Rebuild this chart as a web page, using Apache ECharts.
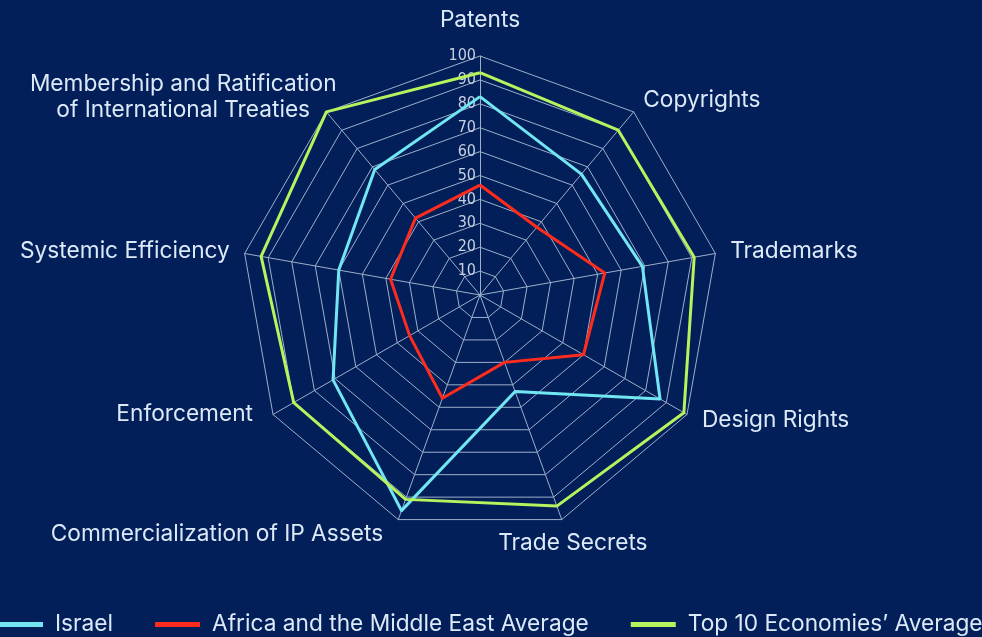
<!DOCTYPE html>
<html>
<head>
<meta charset="utf-8">
<script src="https://cdn.jsdelivr.net/npm/echarts@6/dist/echarts.min.js"></script>
<style>
html,body{margin:0;padding:0;background:#021f5a;}
#c{width:982px;height:637px;}
</style>
</head>
<body>
<div id="c"></div>
<script>
// Categories in clockwise order starting from the top
const categories = ['Patents','Copyrights','Trademarks','Design Rights','Trade Secrets','Commercialization of IP Assets','Enforcement','Systemic Efficiency','Membership and Ratification\nof International Treaties'];
const israel = [83, 66, 69, 87, 43, 96, 71, 60, 68.5];
const africaME = [46, 37, 53, 50, 30, 46, 34, 38, 42];
const top10 = [93, 90, 91, 98.5, 94, 91, 90, 93, 100];
const seriesNames = ['Israel', 'Africa and the Middle East Average', "Top 10 Economies\u2019 Average"];
const seriesColors = ['#72e6f2', '#ff2b1c', '#b6f35c'];
const axisMax = 100;

const NAME_FONT = 'Inter';
const NAME_SIZE = 22.7;
const NAME_COLOR = '#dce9f7';

// per-indicator name placement tweaks (clockwise index)
const nameStyles = {
  0: { padding: [0, 0, 8, 0] },
  1: { verticalAlign: 'middle', padding: [4, 0, 0, 0] },
  3: { verticalAlign: 'bottom', lineHeight: 4, padding: [0, 0, 0, 2] },
  4: { align: 'center', verticalAlign: 'top', lineHeight: 18, padding: [0, 0, 0, 12] },
  5: { verticalAlign: 'middle', padding: [0, 10, 4, 0] },
  6: { verticalAlign: 'bottom', lineHeight: 16, padding: [0, 7, 0, 0] },
  8: {
    verticalAlign: 'middle',
    padding: [0, 0, 7, 0],
    rich: { m: { width: 267, align: 'center', fontSize: NAME_SIZE, fontFamily: NAME_FONT, color: NAME_COLOR, lineHeight: 26 } }
  }
};

// ECharts radar places indicators counter-clockwise: reorder
const order = [0].concat(categories.slice(1).map((_, i) => categories.length - 1 - i));
const reorder = arr => order.map(i => arr[i]);

const indicator = order.map((i, k) => {
  let name = categories[i];
  if (i === 8) name = name.split('\n').map(s => '{m|' + s + '}').join('\n');
  const ind = { name: name, max: axisMax, min: 0 };
  if (nameStyles[i]) ind.nameTextStyle = nameStyles[i];
  if (k === 0) ind.axisLabel = { show: true };
  return ind;
});

const chart = echarts.init(document.getElementById('c'));
chart.setOption({
  backgroundColor: '#021f5a',
  animation: false,
  legend: {
    top: 608,
    left: -7,
    width: 1100,
    itemWidth: 45,
    itemHeight: 5,
    itemGap: 42,
    icon: 'rect',
    textStyle: { color: NAME_COLOR, fontSize: NAME_SIZE, fontFamily: NAME_FONT, padding: [0, 0, 0, 7] },
    data: seriesNames
  },
  radar: {
    center: [480, 295],
    radius: 239,
    startAngle: 90,
    splitNumber: 10,
    shape: 'polygon',
    nameGap: 15,
    axisName: {
      color: NAME_COLOR,
      fontSize: NAME_SIZE,
      fontFamily: NAME_FONT,
      lineHeight: 26
    },
    axisLine: { lineStyle: { color: '#9dafca', width: 1 } },
    splitLine: { lineStyle: { color: '#9dafca', width: 1 } },
    splitArea: { show: false },
    axisLabel: {
      show: false,
      color: '#c6d0e0',
      fontSize: 16,
      fontFamily: "'Liberation Sans Narrow', 'DejaVu Sans Condensed', sans-serif",
      margin: 4,
      showMinLabel: false,
      formatter: v => (v === 0 ? '' : v)
    },
    indicator: indicator
  },
  series: [{
    type: 'radar',
    symbol: 'none',
    data: [
      { name: seriesNames[0], value: reorder(israel), lineStyle: { color: seriesColors[0], width: 3 }, itemStyle: { color: seriesColors[0] } },
      { name: seriesNames[1], value: reorder(africaME), lineStyle: { color: seriesColors[1], width: 3 }, itemStyle: { color: seriesColors[1] } },
      { name: seriesNames[2], value: reorder(top10), lineStyle: { color: seriesColors[2], width: 3 }, itemStyle: { color: seriesColors[2] } }
    ]
  }]
});
</script>
</body>
</html>
